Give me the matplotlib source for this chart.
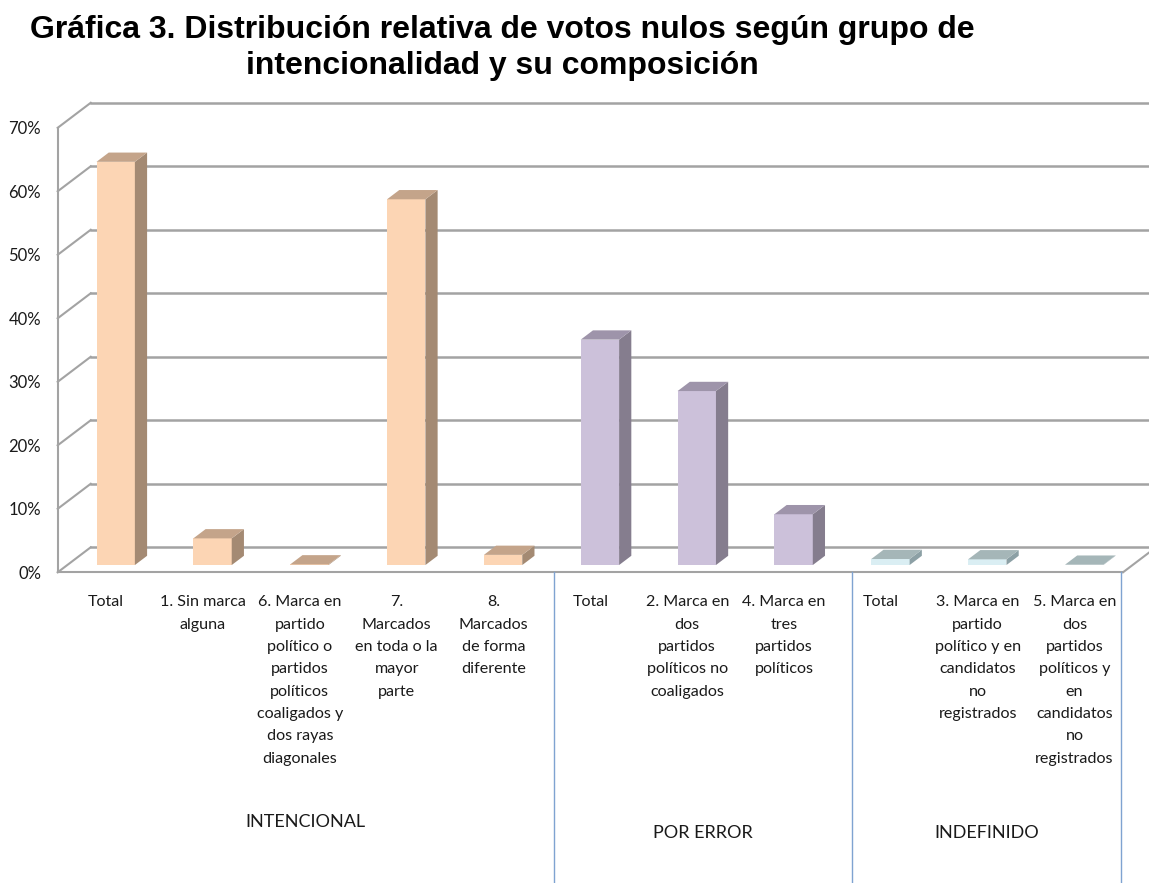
import matplotlib
matplotlib.use("Agg")
import matplotlib.pyplot as plt
from matplotlib.patches import Polygon
from matplotlib.ticker import FuncFormatter

# ---------------------------
# Data
# ---------------------------
CATEGORIES = [
    "Total",
    "1. Sin marca\nalguna",
    "6. Marca en\npartido\npolítico o\npartidos\npolíticos\ncoaligados y\ndos rayas\ndiagonales",
    "7.\nMarcados\nen toda o la\nmayor\nparte",
    "8.\nMarcados\nde forma\ndiferente",
    "Total",
    "2. Marca en\ndos\npartidos\npolíticos no\ncoaligados",
    "4. Marca en\ntres\npartidos\npolíticos",
    "Total",
    "3. Marca en\npartido\npolítico y en\ncandidatos\nno\nregistrados",
    "5. Marca en\ndos\npartidos\npolíticos y\nen\ncandidatos\nno\nregistrados",
]
VALUES = [63.5, 4.2, 0.1, 57.6, 1.6, 35.5, 27.4, 8.0, 0.95, 0.9, 0.05]
GROUPS = ["INTENCIONAL", "POR ERROR", "INDEFINIDO"]
GROUP_SIZES = [5, 3, 3]

# front / side / top colours per group
GROUP_COLORS = [
    ("#fcd5b4", "#a48a73", "#c4a48a"),
    ("#ccc1da", "#857d8e", "#9e94aa"),
    ("#daeef3", "#8ca0a5", "#a5b6b8"),
]

# ---------------------------
# Fake 3D geometry (oblique projection)
# ---------------------------
DX = 0.341      # depth offset in category units
DY = 3.94       # depth offset in percent units
F0 = 0.29       # bar front position inside the depth
FD = 0.37       # bar depth
BAR_W = 0.396
YMAX = 70
N = len(CATEGORIES)

GRID_COL = "#a3a3a3"
TXT_COL = "#1a1a1a"
SEP_COL = "#7fa3d1"
FONT = ["Lato", "DejaVu Sans"]

fig = plt.figure(figsize=(11.49, 8.83), dpi=100)
ax = fig.add_axes([57.7 / 1149, (883 - 572.3) / 883, 1065.3 / 1149, 444.5 / 883])
ax.set_xlim(0, N)
ax.set_ylim(0, YMAX)
for s in ax.spines.values():
    s.set_visible(False)

# walls: gridlines on back wall + diagonals on the left wall
for g in range(0, YMAX + 1, 10):
    ax.plot([0, DX], [g, g + DY], color=GRID_COL, lw=1.5, clip_on=False, zorder=1)
    ax.plot([DX, N + DX + 0.5], [g + DY, g + DY], color=GRID_COL, lw=1.8,
            clip_on=False, zorder=1)
ax.plot([0, 0], [0, YMAX], color=GRID_COL, lw=1.5, clip_on=False, zorder=1)
# floor front edge and right edge
ax.plot([0, N], [0, 0], color=GRID_COL, lw=1.5, clip_on=False, zorder=1)
ax.plot([N, N + DX], [0, DY], color=GRID_COL, lw=1.5, clip_on=False, zorder=1)

# bars
colors = []
for gi, size in enumerate(GROUP_SIZES):
    colors.extend([GROUP_COLORS[gi]] * size)

xs = [i + 0.5 + F0 * DX for i in range(N)]
base = F0 * DY
ax.bar(xs, VALUES, width=BAR_W, bottom=base, color=[c[0] for c in colors],
       edgecolor="none", zorder=3, clip_on=False)
for x, v, c in zip(xs, VALUES, colors):
    xl, xr = x - BAR_W / 2, x + BAR_W / 2
    top = base + v
    side = Polygon([(xr, base), (xr + FD * DX, base + FD * DY),
                    (xr + FD * DX, top + FD * DY), (xr, top)],
                   closed=True, facecolor=c[1], edgecolor="none", zorder=3, clip_on=False)
    lid = Polygon([(xl, top), (xr, top), (xr + FD * DX, top + FD * DY),
                   (xl + FD * DX, top + FD * DY)],
                  closed=True, facecolor=c[2], edgecolor="none", zorder=4, clip_on=False)
    ax.add_patch(side)
    ax.add_patch(lid)

# y axis labels
ax.set_yticks(range(0, YMAX + 1, 10))
ax.yaxis.set_major_formatter(FuncFormatter(lambda v, p: f"{int(v)}%"))
ax.tick_params(axis="y", length=0, pad=12, labelsize=12, labelcolor=TXT_COL)

# category labels
ax.set_xticks([i + 0.5 for i in range(N)])
ax.set_xticklabels(CATEGORIES)
ax.tick_params(axis="x", length=0, pad=16.5, labelsize=11.6, labelcolor=TXT_COL)
for lbl in ax.get_xticklabels() + ax.get_yticklabels():
    lbl.set_family(FONT)
for lbl in ax.get_xticklabels():
    lbl.set_linespacing(1.76)
    lbl.set_verticalalignment("top")

# group separators and labels (below the floor)
seps = [0.0, 5.124, 8.2, 10.98]
for s in seps[1:]:
    ax.plot([s, s], [0, -49], color=SEP_COL, lw=1, clip_on=False, zorder=1)
label_y = [-39.4, -41.0, -41.0]
for gi, name in enumerate(GROUPS):
    ax.text((seps[gi] + seps[gi + 1]) / 2, label_y[gi], name, ha="center", va="center",
            fontsize=13, color=TXT_COL, family=FONT)

# title
fig.text(502 / 1149, 1 - 15 / 883,
         "Gráfica 3. Distribución relativa de votos nulos según grupo de\nintencionalidad y su composición",
         ha="center", va="top", fontsize=23, fontweight="bold", color="#000000",
         family=["Liberation Sans", "DejaVu Sans"], linespacing=1.28)

fig.savefig("out.png", dpi=100)
